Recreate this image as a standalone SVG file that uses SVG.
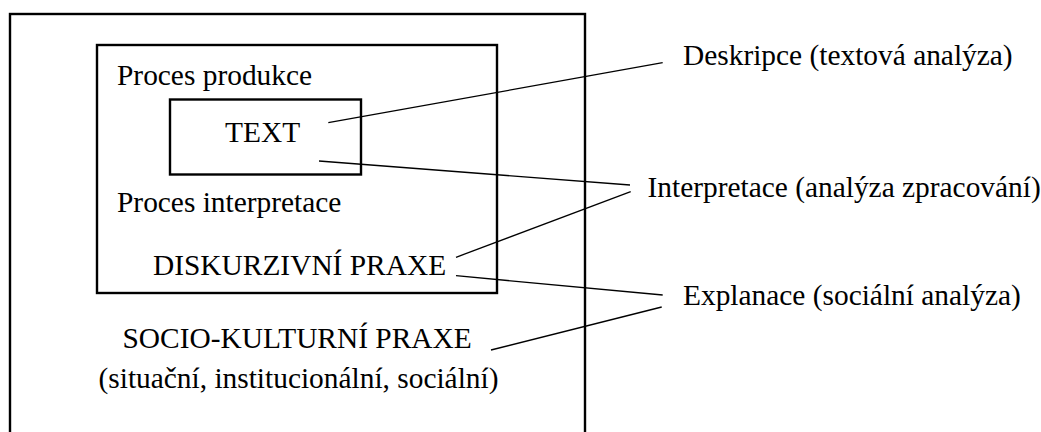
<svg xmlns="http://www.w3.org/2000/svg" width="1041" height="432" viewBox="0 0 1041 432">
<style>
.box{fill:none;stroke:#000;stroke-width:2.4}
.t{font-family:"Liberation Serif","Times New Roman",serif;font-size:29.4px;fill:#000}
.c line{stroke:#000;stroke-width:1.3}
</style>
<rect width="1041" height="432" fill="#fff"/>
<g id="socio">
<rect class="box" x="10" y="14" width="575" height="440"/>
<text class="t" x="122.5" y="348">SOCIO-KULTURNÍ PRAXE</text>
<text class="t" x="98.5" y="388">(situační, institucionální, sociální)</text>
</g>
<g id="diskurz">
<rect class="box" x="97" y="45" width="400" height="248"/>
<text class="t" x="117" y="85">Proces produkce</text>
<text class="t" x="117" y="211.5">Proces interpretace</text>
<text class="t" x="153" y="275">DISKURZIVNÍ PRAXE</text>
</g>
<g id="text">
<rect class="box" x="170" y="99.5" width="191" height="75"/>
<text class="t" x="225" y="141.5">TEXT</text>
</g>
<g id="deskripce"><text class="t" x="683" y="65">Deskripce (textová analýza)</text></g>
<g id="interpretace"><text class="t" x="647.5" y="196.5">Interpretace (analýza zpracování)</text></g>
<g id="explanace"><text class="t" x="683" y="305">Explanace (sociální analýza)</text></g>
<g class="c" id="connectors">
<line x1="328.3" y1="122.7" x2="662.7" y2="62.7"/>
<line x1="319" y1="161" x2="630" y2="185"/>
<line x1="456" y1="257.3" x2="630.7" y2="191.7"/>
<line x1="456" y1="275.7" x2="662.7" y2="295"/>
<line x1="491" y1="350" x2="661.7" y2="307"/>
</g>
</svg>
